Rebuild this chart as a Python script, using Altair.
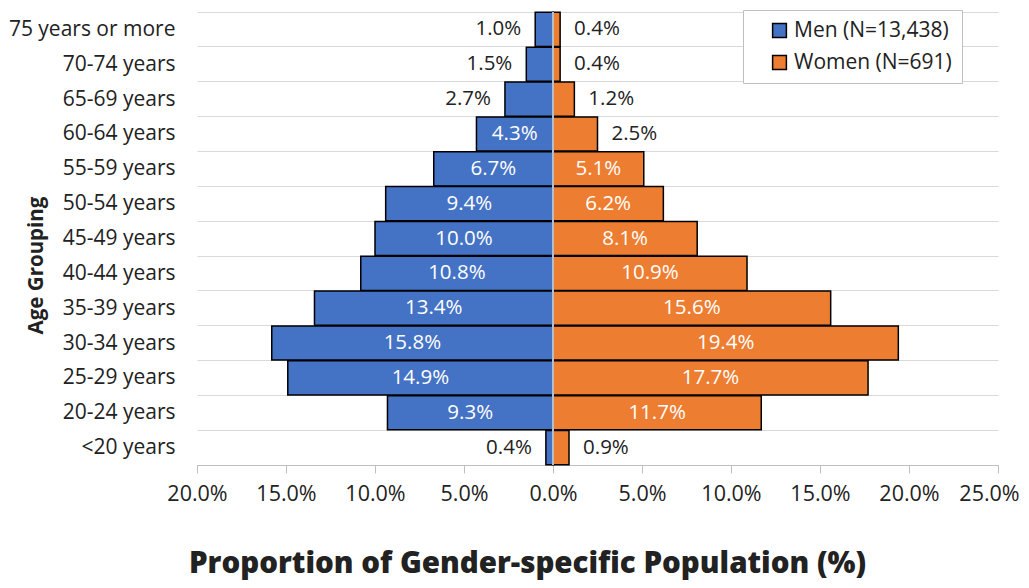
import altair as alt
import pandas as pd

ages = ["75 years or more", "70-74 years", "65-69 years", "60-64 years", "55-59 years",
        "50-54 years", "45-49 years", "40-44 years", "35-39 years", "30-34 years",
        "25-29 years", "20-24 years", "<20 years"]
men = [1.0, 1.5, 2.7, 4.3, 6.7, 9.4, 10.0, 10.8, 13.4, 15.8, 14.9, 9.3, 0.4]
women = [0.4, 0.4, 1.2, 2.5, 5.1, 6.2, 8.1, 10.9, 15.6, 19.4, 17.7, 11.7, 0.9]
series_names = ["Men (N=13,438)", "Women (N=691)"]
colors = ["#4472C4", "#ED7D31"]
x_ticks = [-20, -15, -10, -5, 0, 5, 10, 15, 20, 25]

rows = []
for a, m, w in zip(ages, men, women):
    rows.append(dict(age=a, series=series_names[0], value=-m, pct=m, label=f"{m:.1f}%"))
    rows.append(dict(age=a, series=series_names[1], value=w, pct=w, label=f"{w:.1f}%"))
df = pd.DataFrame(rows)
df["mid"] = df["value"] / 2

FONT = "Open Sans"
TXT = "#222222"

y_enc = alt.Y(
    "age:N", sort=ages,
    scale=alt.Scale(paddingInner=0.02, paddingOuter=0.01),
    axis=alt.Axis(
        title="Age Grouping", tickBand="extent", grid=True, gridColor="#d9d9d9",
        gridWidth=1, domain=False, ticks=False, labelFontSize=21, labelColor=TXT,
        labelPadding=22, titleFontSize=20.5, titleFontWeight="bold", titleColor=TXT,
        titleX=-161, titleY=253, titleAngle=270, titleAlign="center",
        titleBaseline="middle",
    ),
)

x_scale = alt.Scale(domain=[-20, 25], nice=False, zero=False)
x_axis = alt.Axis(
    values=x_ticks, labelExpr="format(abs(datum.value)/100, '.1%')", grid=False,
    domainColor="#bfbfbf", tickColor="#bfbfbf", tickSize=8, labelFontSize=21.5,
    labelColor=TXT, labelPadding=10, labelFlush=False, labelOverlap=False,
    labelOffset={"condition": {"test": "datum.value == 25", "value": -9}, "value": 0},
    title="Proportion of Gender-specific Population (%)", titleFontSize=29.5,
    titleFontWeight=800, titleColor=TXT, titleX=330, titleY=107,
    titleAlign="center", titleBaseline="alphabetic",
)

base = alt.Chart(df)

bars = base.mark_bar(stroke="black", strokeWidth=1.5).encode(
    x=alt.X("value:Q", scale=x_scale, axis=x_axis),
    x2=alt.datum(0),
    y=y_enc,
    color=alt.Color(
        "series:N",
        scale=alt.Scale(domain=series_names, range=colors),
        legend=alt.Legend(
            title=None, orient="none", legendX=546, legendY=-2, padding=10,
            strokeColor="#bfbfbf", fillColor="white", symbolType="square",
            symbolSize=190, symbolStrokeColor="black", symbolStrokeWidth=1.5,
            symbolOffset=16, labelFontSize=21, labelColor=TXT, rowPadding=10,
            labelOffset=4, labelLimit=400,
        ),
    ),
)

zero_rule = base.mark_rule(color="#b8bec8", strokeWidth=0.8).encode(
    x=alt.datum(0)
)

inside = base.transform_filter("datum.pct >= 4").mark_text(
    color="white", fontSize=20.5, baseline="middle"
).encode(x=alt.X("mid:Q"), y=alt.Y("age:N", sort=ages), text="label:N")

out_men = base.transform_filter("datum.pct < 4 && datum.value < 0").mark_text(
    color=TXT, fontSize=20.5, align="right", dx=-14, baseline="middle"
).encode(x=alt.X("value:Q"), y=alt.Y("age:N", sort=ages), text="label:N")

out_women = base.transform_filter("datum.pct < 4 && datum.value >= 0").mark_text(
    color=TXT, fontSize=20.5, align="left", dx=14, baseline="middle"
).encode(x=alt.X("value:Q"), y=alt.Y("age:N", sort=ages), text="label:N")

chart = alt.layer(bars, zero_rule, inside, out_men, out_women).properties(
    width=801, height=453,
    padding={"left": 189, "top": 4, "right": 22, "bottom": 115},
    autosize=alt.AutoSizeParams(type="none"),
).configure(font=FONT).configure_view(stroke=None)

chart.save("out.html", embed_options={"renderer": "svg", "actions": False})
